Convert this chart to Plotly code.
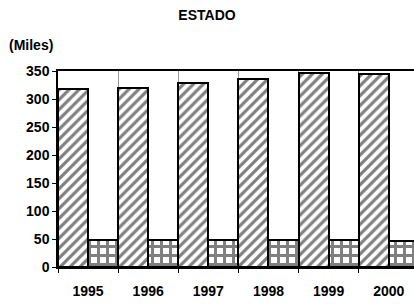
import plotly.graph_objects as go

years = ["1995", "1996", "1997", "1998", "1999", "2000"]
serie_a = [318, 320, 329, 336, 347, 344]
serie_b = [48, 48, 48, 48, 48, 46]
y_ticks = [0, 50, 100, 150, 200, 250, 300, 350]

xpos = list(range(len(years)))
FONT = "Liberation Sans, Arial, sans-serif"

fig = go.Figure()
fig.add_trace(go.Bar(
    x=xpos, y=serie_a, name="A",
    marker=dict(color="white", line=dict(color="black", width=2),
                pattern=dict(shape="/", size=7, solidity=0.45,
                             fgcolor="black", bgcolor="white")),
))
fig.add_trace(go.Bar(
    x=xpos, y=serie_b, name="B",
    marker=dict(color="white", line=dict(color="black", width=2),
                pattern=dict(shape="+", size=9, solidity=0.55,
                             fgcolor="black", bgcolor="white")),
))

fig.update_layout(
    width=414, height=304,
    margin=dict(l=58, r=0, t=71, b=37),
    paper_bgcolor="white", plot_bgcolor="white",
    barmode="group", bargap=0, bargroupgap=0,
    showlegend=False,
    font=dict(family=FONT, size=14, color="black", weight="bold"),
    title=dict(text="ESTADO", x=0.5, xanchor="center", y=1 - 15 / 304,
               yanchor="middle",
               font=dict(size=14, color="black", weight="bold")),
    annotations=[dict(text="(Miles)", xref="paper", yref="paper", x=0, y=1,
                      xanchor="right", yanchor="middle", xshift=-3, yshift=26,
                      showarrow=False,
                      font=dict(size=14, color="black", weight="bold"))],
)
fig.update_xaxes(
    range=[-0.5, 5.42], tickvals=xpos, ticktext=years,
    ticks="", showgrid=False, zeroline=False,
    showline=True, linecolor="black", linewidth=2, mirror=True,
    ticklabelstandoff=10,
    minor=dict(tick0=0.5, dtick=1, ticks="outside", ticklen=4,
               tickcolor="black", showgrid=True, gridcolor="#999999",
               gridwidth=1),
)
fig.update_yaxes(
    range=[0, 350], tickvals=y_ticks, ticks="outside", ticklen=4,
    tickcolor="black", showgrid=False, zeroline=False,
    showline=True, linecolor="black", linewidth=1.5,
)

fig.write_html("out.html", config={"displayModeBar": False},
               post_script="document.body.style.margin='0';")
